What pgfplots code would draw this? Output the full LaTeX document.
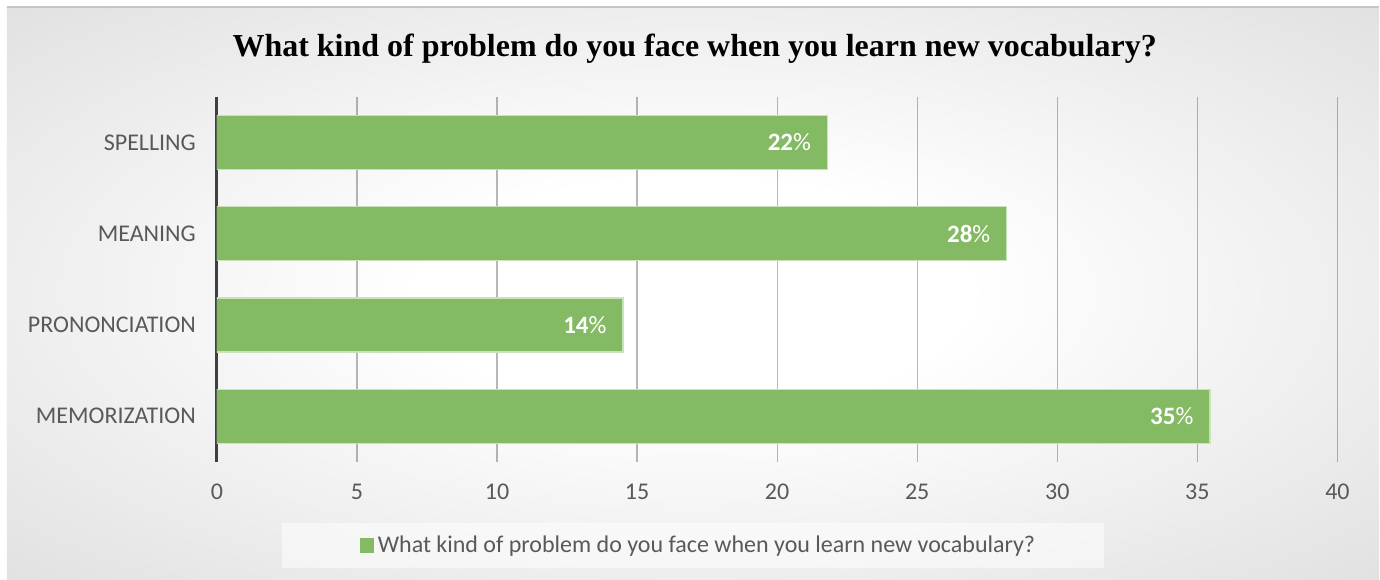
\documentclass[border=0pt]{standalone}
\usepackage{pgfplots}
\pgfplotsset{compat=1.18}
\usepackage{fontspec}
\setmainfont{Carlito}
\newfontfamily\titlefont{Liberation Serif}
\definecolor{barfill}{HTML}{84BA64}
\definecolor{baredge}{HTML}{C9E2BA}
\definecolor{ticktext}{HTML}{595959}
\definecolor{bgout}{HTML}{C4C4C4}
\definecolor{bgmid}{HTML}{D0D0D0}
\definecolor{axisdark}{HTML}{404040}
\pgfdeclareradialshading{bgshade}{\pgfpoint{0bp}{0bp}}{color(0bp)=(white); color(10bp)=(white); color(50bp)=(bgmid); color(72bp)=(bgout)}
\begin{document}
\begin{tikzpicture}[x=1pt,y=1pt]
\fill[white] (-108.5,-59) rectangle (581.5,231);
\shade[shading=bgshade] (-105,-59) rectangle (581.5,227.5);
\draw[black!22, line width=0.8pt] (-105,227.5) -- (581.5,227.5);
\fill[white, opacity=0.5] (32.5,-53) rectangle (444,-30.5);
\begin{axis}[
  at={(0,0)}, anchor=south west,
  scale only axis, width=560.6pt, height=182.5pt,
  xbar, bar width=27pt,
  xmin=0, xmax=40, ymin=-0.5, ymax=3.5, y dir=reverse,
  xtick={0,5,...,40}, ytick={0,1,2,3},
  yticklabels={SPELLING,MEANING,PRONONCIATION,MEMORIZATION},
  axis lines*=left,
  x axis line style={draw=none},
  y axis line style={line width=1.5pt, color=axisdark},
  major tick length=0pt,
  xmajorgrids,
  grid style={black, opacity=0.28, line width=0.6pt},
  tick label style={font=\fontsize{12}{14}\selectfont, text=ticktext},
  xticklabel style={yshift=-7.5pt},
  yticklabel style={xshift=-7pt},
  /pgf/number format/assume math mode=true,
  title={What kind of problem do you face when you learn new vocabulary?},
  title style={at={(0.4264,1.099)}, anchor=center, font=\titlefont\bfseries\fontsize{16}{19}\selectfont},
  nodes near coords={\textbf{\pgfplotspointmeta}\%},
  point meta=explicit symbolic,
  nodes near coords style={anchor=east, inner sep=0pt, xshift=-8pt, text=white, font=\fontsize{12.5}{15}\selectfont},
  legend style={at={(0.4306,-0.230)}, anchor=center, draw=none, fill=none, font=\fontsize{12}{14}\selectfont, text=ticktext},
  legend cell align=left,
]
\addplot[fill=barfill, draw=baredge, line width=0.6pt,
  legend image code/.code={\fill[barfill] (-1pt,-3.5pt) rectangle (5.5pt,3.5pt);}]
  coordinates {(21.8,0) [22] (28.2,1) [28] (14.5,2) [14] (35.45,3) [35]};
\addlegendentry{What kind of problem do you face when you learn new vocabulary?}
\end{axis}
\end{tikzpicture}
\end{document}
